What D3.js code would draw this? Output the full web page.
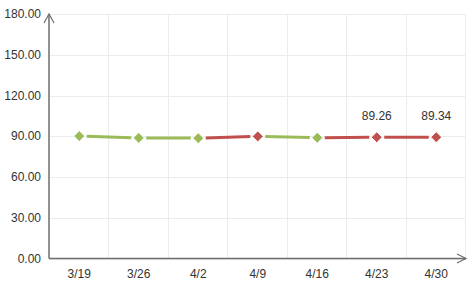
<!DOCTYPE html>
<html>
<head>
<meta charset="utf-8">
<style>
    body { margin: 0; background: #fff; }
    text { font-family: Arial, "Liberation Sans", sans-serif; font-size: 12px; fill: #333; }
</style>
</head>
<body>
<svg width="475" height="288"></svg>
<script src="https://d3js.org/d3.v7.min.js"></script>
<script>
    // chart data
    let dates = ["3/19", "3/26", "4/2", "4/9", "4/16", "4/23", "4/30"]
    let values = [90.1, 88.8, 88.6, 89.9, 88.9, 89.26, 89.34]
    let labelled = ["4/23", "4/30"]   // points that show their value
    let yTicks = [0, 30, 60, 90, 120, 150, 180]

    let up = "#c0504d", down = "#9bbb59"

    let svg = d3.select("svg")
    let pLeft = 49.5, pRight = 466, pTop = 14, pBottom = 258.5

    let x = d3.scaleBand().domain(dates).range([pLeft, pRight])
    let y = d3.scaleLinear().domain([0, 180]).range([pBottom, pTop])

    // grid
    svg.append("g")
        .selectAll("line")
        .data(yTicks)
        .join("line")
        .attr("x1", pLeft).attr("x2", pRight)
        .attr("y1", d => Math.round(y(d)) + 0.5).attr("y2", d => Math.round(y(d)) + 0.5)
        .style("stroke", "#ececec")

    svg.append("g")
        .selectAll("line")
        .data(dates)
        .join("line")
        .attr("x1", d => Math.round(x(d) + x.bandwidth()) - 0.5)
        .attr("x2", d => Math.round(x(d) + x.bandwidth()) - 0.5)
        .attr("y1", pTop).attr("y2", pBottom)
        .style("stroke", "#ececec")

    // y labels
    svg.append("g")
        .selectAll("text")
        .data(yTicks)
        .join("text")
        .attr("x", 41)
        .attr("y", d => y(d) + 4)
        .attr("text-anchor", "end")
        .text(d => d.toFixed(2))

    // x labels
    svg.append("g")
        .selectAll("text")
        .data(dates)
        .join("text")
        .attr("x", d => x(d) + x.bandwidth() / 2)
        .attr("y", 278)
        .attr("text-anchor", "middle")
        .text(d => d)

    // axes with arrows
    let axisColor = "#6e6e6e"
    svg.append("line")
        .attr("x1", pLeft - 0.5).attr("x2", pLeft - 0.5)
        .attr("y1", pBottom).attr("y2", pTop)
        .style("stroke", axisColor).style("stroke-width", 1.5)
    svg.append("line")
        .attr("x1", pLeft - 0.5).attr("x2", pRight)
        .attr("y1", pBottom).attr("y2", pBottom)
        .style("stroke", axisColor).style("stroke-width", 1.5)
    svg.append("path")
        .attr("d", `M${pLeft - 5.5},${pTop + 9}L${pLeft - 0.5},${pTop}L${pLeft + 4.5},${pTop + 9}`)
        .style("fill", "none").style("stroke", axisColor).style("stroke-width", 1.2)
    svg.append("path")
        .attr("d", `M${pRight - 9},${pBottom - 4.5}L${pRight},${pBottom}L${pRight - 9},${pBottom + 4.5}`)
        .style("fill", "none").style("stroke", axisColor).style("stroke-width", 1.2)

    // points
    let pts = dates.map((d, i) => ({
        date: d,
        v: values[i],
        cx: x(d) + x.bandwidth() / 2,
        cy: y(values[i]),
        color: (i > 0 && values[i] > values[i - 1]) ? up : down
    }))

    // segments, coloured by direction, with a gap at each marker
    let gap = 7.5
    let segs = pts.slice(1).map((p, i) => {
        let a = pts[i]
        let dx = p.cx - a.cx, dy = p.cy - a.cy
        let len = Math.sqrt(dx * dx + dy * dy)
        return {
            x1: a.cx + dx / len * gap, y1: a.cy + dy / len * gap,
            x2: p.cx - dx / len * gap, y2: p.cy - dy / len * gap,
            color: p.color
        }
    })

    svg.append("g")
        .selectAll("line")
        .data(segs)
        .join("line")
        .attr("x1", d => d.x1).attr("y1", d => d.y1)
        .attr("x2", d => d.x2).attr("y2", d => d.y2)
        .style("stroke", d => d.color)
        .style("stroke-width", 3)

    let r = 5.5
    svg.append("g")
        .selectAll("path")
        .data(pts)
        .join("path")
        .attr("d", d => `M${d.cx},${d.cy - r}L${d.cx + r},${d.cy}L${d.cx},${d.cy + r}L${d.cx - r},${d.cy}Z`)
        .style("fill", d => d.color)
        .style("stroke", "#fff")
        .style("stroke-width", 1)

    // value labels
    svg.append("g")
        .selectAll("text")
        .data(pts.filter(d => labelled.includes(d.date)))
        .join("text")
        .attr("x", d => d.cx)
        .attr("y", d => d.cy - 17)
        .attr("text-anchor", "middle")
        .text(d => d.v.toFixed(2))
</script>
</body>
</html>
